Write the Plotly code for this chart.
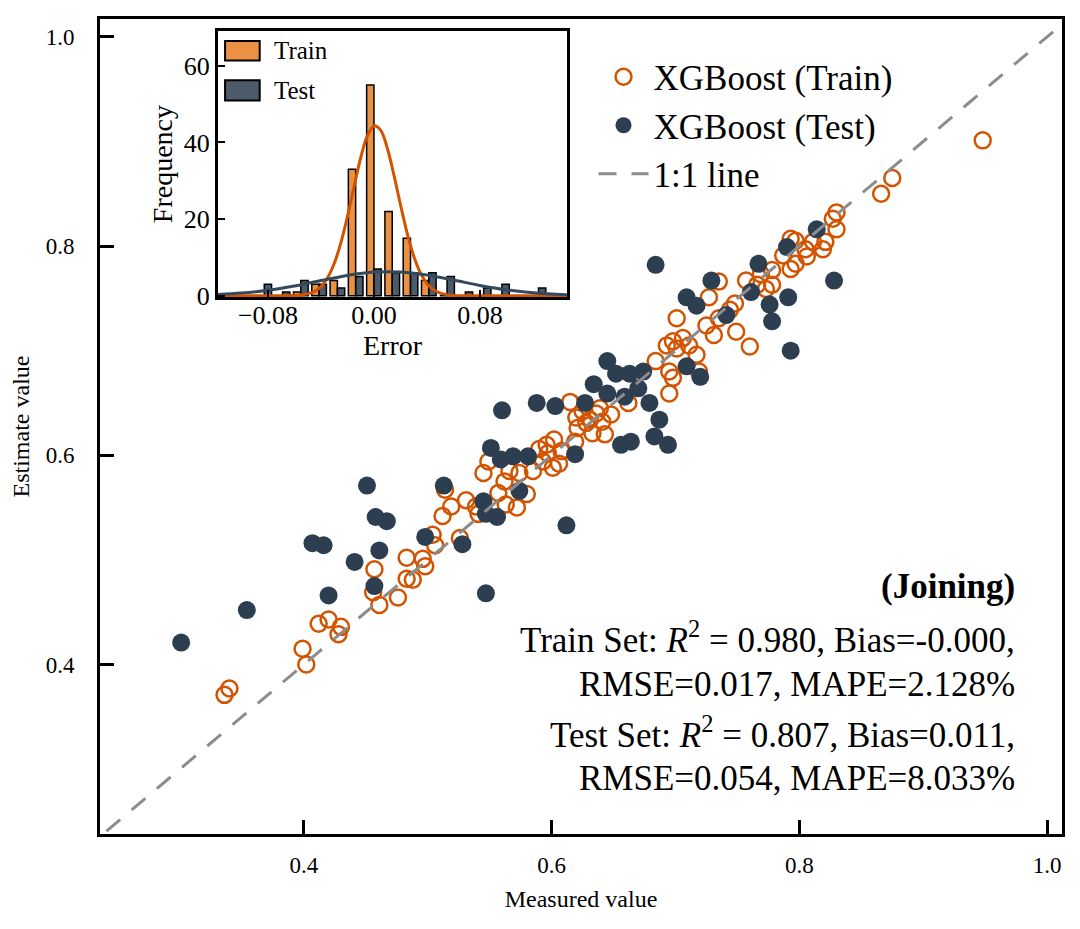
import plotly.graph_objects as go

# ---- scatter data (measured vs estimated) ----
train_measured = [
    0.340, 0.336, 0.399, 0.402, 0.412, 0.420, 0.430, 0.428, 0.457, 0.456, 0.461, 0.476,
    0.483, 0.488, 0.483, 0.496, 0.498, 0.504, 0.506, 0.512, 0.519, 0.526, 0.531, 0.541,
    0.545, 0.557, 0.514, 0.563, 0.539, 0.562, 0.572, 0.580, 0.566, 0.574, 0.585, 0.593,
    0.601, 0.596, 0.602, 0.608, 0.615, 0.620, 0.621, 0.628, 0.633, 0.641, 0.643, 0.648,
    0.639, 0.662, 0.684, 0.695, 0.695, 0.701, 0.693, 0.549, 0.625, 0.631, 0.636, 0.619,
    0.597, 0.590, 0.606, 0.866, 0.830, 0.827, 0.830, 0.819, 0.811, 0.805, 0.797, 0.793,
    0.787, 0.797, 0.793, 0.778, 0.757, 0.766, 0.778, 0.773, 0.735, 0.748, 0.744, 0.727,
    0.735, 0.725, 0.731, 0.749, 0.760, 0.701, 0.698, 0.706, 0.711, 0.717, 0.698, 0.719,
    0.875, 0.948, 0.769, 0.806, 0.821,
]
train_estimate = [
    0.377, 0.371, 0.415, 0.400, 0.439, 0.443, 0.436, 0.429, 0.491, 0.469, 0.457, 0.464,
    0.482, 0.481, 0.502, 0.501, 0.494, 0.524, 0.514, 0.542, 0.551, 0.521, 0.557, 0.544,
    0.583, 0.564, 0.567, 0.553, 0.551, 0.575, 0.550, 0.563, 0.585, 0.583, 0.585, 0.594,
    0.588, 0.610, 0.615, 0.604, 0.651, 0.636, 0.626, 0.631, 0.621, 0.632, 0.620, 0.639,
    0.645, 0.650, 0.690, 0.680, 0.659, 0.702, 0.705, 0.594, 0.642, 0.634, 0.640, 0.613,
    0.602, 0.606, 0.592, 0.850, 0.832, 0.826, 0.816, 0.797, 0.804, 0.797, 0.805, 0.807,
    0.791, 0.783, 0.778, 0.777, 0.767, 0.763, 0.763, 0.759, 0.766, 0.745, 0.739, 0.751,
    0.731, 0.724, 0.715, 0.718, 0.704, 0.731, 0.709, 0.712, 0.705, 0.696, 0.674, 0.680,
    0.865, 0.901, 0.773, 0.790, 0.804,
]
test_measured = [
    0.301, 0.354, 0.407, 0.416, 0.420, 0.441, 0.451, 0.458, 0.467, 0.461, 0.457, 0.498,
    0.513, 0.528, 0.547, 0.545, 0.547, 0.556, 0.574, 0.612, 0.551, 0.559, 0.569, 0.581,
    0.560, 0.588, 0.603, 0.619, 0.627, 0.634, 0.645, 0.645, 0.652, 0.659, 0.663, 0.670,
    0.674, 0.679, 0.687, 0.683, 0.694, 0.656, 0.664, 0.709, 0.684, 0.729, 0.709, 0.717,
    0.741, 0.767, 0.761, 0.790, 0.814, 0.828, 0.791, 0.776, 0.778, 0.793, 0.720,
]
test_estimate = [
    0.421, 0.452, 0.516, 0.514, 0.466, 0.498, 0.571, 0.541, 0.537, 0.509, 0.475, 0.522,
    0.571, 0.515, 0.468, 0.556, 0.544, 0.541, 0.566, 0.533, 0.607, 0.596, 0.599, 0.599,
    0.643, 0.650, 0.647, 0.601, 0.650, 0.668, 0.690, 0.659, 0.678, 0.656, 0.678, 0.664,
    0.680, 0.650, 0.634, 0.618, 0.610, 0.610, 0.613, 0.685, 0.782, 0.767, 0.751, 0.743,
    0.734, 0.783, 0.756, 0.799, 0.816, 0.767, 0.751, 0.744, 0.728, 0.700, 0.675,
]
identity_line = [0.2, 1.05]

# ---- inset histogram of errors ----
bin_centers = [-0.0828, -0.0690, -0.0552, -0.0414, -0.0276, -0.0138, 0.0, 0.0138,
               0.0276, 0.0414, 0.0552, 0.0690, 0.0828, 0.0966, 0.1104, 0.1242]
train_counts = [0, 0, 1, 3, 4, 33, 55, 22, 15, 4, 0, 0, 0, 0, 0, 0]
test_counts = [3, 1, 4, 3, 2, 5, 7, 6, 6, 6, 5, 1, 2, 3, 0, 2]

# fitted normal curves
train_curve_x = [-0.118, -0.09, -0.06, -0.055, -0.05, -0.045, -0.04, -0.035, -0.03, -0.025,
                 -0.02, -0.015, -0.01, -0.005, 0.0, 0.005, 0.01, 0.015, 0.02, 0.025, 0.03,
                 0.035, 0.04, 0.045, 0.05, 0.055, 0.06, 0.09, 0.1457]
train_curve_y = [0, 0, 0.07, 0.2, 0.5, 1.1, 2.4, 4.7, 8.4, 13.8, 20.7, 28.5, 36.0, 41.7, 44.3,
                 43.2, 38.6, 31.6, 23.8, 16.4, 10.4, 6.0, 3.2, 1.6, 0.7, 0.3, 0.1, 0, 0]
test_curve_x = [-0.118, -0.10, -0.08, -0.06, -0.04, -0.02, 0.0, 0.02, 0.04, 0.06, 0.08,
                0.10, 0.12, 0.1457]
test_curve_y = [0.33, 0.7, 1.44, 2.57, 3.97, 5.31, 6.17, 6.21, 5.42, 4.11, 2.7, 1.54, 0.76, 0.25]

stats_lines = [
    "<b>(Joining)</b>",
    "Train Set: <i>R</i><sup>2</sup> = 0.980, Bias=-0.000,",
    "RMSE=0.017, MAPE=2.128%",
    "Test Set: <i>R</i><sup>2</sup> = 0.807, Bias=0.011,",
    "RMSE=0.054, MAPE=8.033%",
]

ORANGE = "#D35400"
DARK = "#2C3E50"
HIST_ORANGE = "rgba(230,126,34,0.85)"
HIST_DARK = "rgba(44,62,80,0.85)"
FONT = "Liberation Serif, Times New Roman, serif"

fig = go.Figure()

fig.add_trace(go.Scatter(
    x=train_measured, y=train_estimate, mode="markers", name="XGBoost (Train)",
    marker=dict(symbol="circle-open", size=16, color=ORANGE, line=dict(width=2.5)),
))
fig.add_trace(go.Scatter(
    x=test_measured, y=test_estimate, mode="markers", name="XGBoost (Test)",
    marker=dict(symbol="circle", size=18, color=DARK),
))
fig.add_trace(go.Scatter(
    x=identity_line, y=identity_line, mode="lines", name="1:1 line",
    line=dict(color="#8C8C8C", width=3, dash="18px,15px"),
))

bw = bin_centers[1] - bin_centers[0]
fig.add_trace(go.Bar(
    x=bin_centers, y=train_counts, name="Train", width=0.4 * bw, offset=-0.4 * bw,
    marker=dict(color=HIST_ORANGE, line=dict(color="black", width=1.5)),
    xaxis="x2", yaxis="y2", showlegend=False,
))
fig.add_trace(go.Bar(
    x=bin_centers, y=test_counts, name="Test", width=0.4 * bw, offset=0,
    marker=dict(color=HIST_DARK, line=dict(color="black", width=1.5)),
    xaxis="x2", yaxis="y2", showlegend=False,
))
fig.add_trace(go.Scatter(
    x=train_curve_x, y=train_curve_y, mode="lines", line=dict(color=ORANGE, width=3, shape="spline"),
    xaxis="x2", yaxis="y2", showlegend=False,
))
fig.add_trace(go.Scatter(
    x=test_curve_x, y=test_curve_y, mode="lines", line=dict(color="#34495E", width=3, shape="spline"),
    xaxis="x2", yaxis="y2", showlegend=False,
))

axis_common = dict(showline=True, linewidth=3, linecolor="black", mirror=True,
                   showgrid=False, zeroline=False, ticks="inside", tickcolor="black")

fig.update_layout(
    width=1080, height=929,
    margin=dict(l=92, r=26, t=8, b=103),
    paper_bgcolor="white", plot_bgcolor="white",
    font=dict(family=FONT, color="black"),
    barmode="overlay",
    xaxis=dict(**axis_common, domain=[0, 1], range=[0.2355, 1.012],
               tickvals=[0.4, 0.6, 0.8, 1.0], tickformat=".1f", ticklen=14, tickwidth=3,
               tickfont=dict(size=23), ticklabelstandoff=8,
               title=dict(text="Measured value", font=dict(size=24), standoff=14)),
    yaxis=dict(**axis_common, domain=[0, 1], range=[0.238, 1.017],
               tickvals=[0.4, 0.6, 0.8, 1.0], tickformat=".1f", ticklen=14, tickwidth=3,
               tickfont=dict(size=23), ticklabelstandoff=18,
               title=dict(text="Estimate value", font=dict(size=24), standoff=12)),
    xaxis2=dict(**axis_common, domain=[0.1227, 0.4854], anchor="y2", range=[-0.1177, 0.1457],
                tickvals=[-0.08, 0.0, 0.08], tickformat=".2f", ticklen=7, tickwidth=2,
                tickfont=dict(size=26), ticklabelstandoff=-7,
                title=dict(text="Error", font=dict(size=28), standoff=0)),
    yaxis2=dict(**axis_common, domain=[0.659, 0.985], anchor="x2", range=[-0.3, 69],
                tickvals=[0, 20, 40, 60], ticklen=7, tickwidth=2,
                tickfont=dict(size=26),
                title=dict(text="Frequency", font=dict(size=28), standoff=4)),
    legend=dict(x=0.513, y=0.965, xanchor="left", yanchor="top", bgcolor="rgba(0,0,0,0)",
                font=dict(size=35), itemwidth=50),
)

# inset legend (patches + labels)
inset_legend = [("Train", HIST_ORANGE, 0.973, 0.949, 0.961), ("Test", HIST_DARK, 0.925, 0.900, 0.912)]
for label, color, y_top, y_bot, y_mid in inset_legend:
    fig.add_shape(type="rect", xref="paper", yref="paper", x0=0.130, x1=0.166, y0=y_bot, y1=y_top,
                  fillcolor=color, line=dict(color="black", width=2))
    fig.add_annotation(x=0.179, y=y_mid, xref="paper", yref="paper", xanchor="left",
                       yanchor="middle", text=label, showarrow=False, font=dict(size=25))

line_y = [0.304, 0.241, 0.183, 0.125, 0.068]
for text, yy in zip(stats_lines, line_y):
    fig.add_annotation(x=0.953, y=yy, xref="paper", yref="paper", xanchor="right",
                       yanchor="middle", text=text, showarrow=False, font=dict(size=35))

fig.write_html("out.html")
